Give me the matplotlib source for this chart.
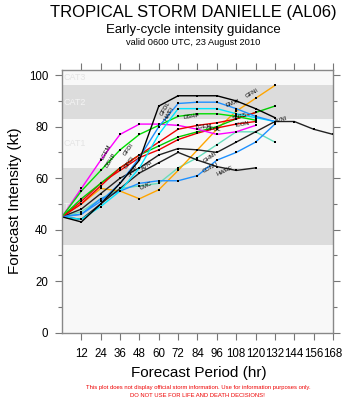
import numpy as np
import matplotlib
matplotlib.use('Agg')
import matplotlib.pyplot as plt

plt.rcParams['font.family'] = ['Liberation Sans', 'DejaVu Sans']

# forecast hours
hours = [0, 12, 24, 36, 48, 60, 72, 84, 96, 108, 120, 132, 144, 156, 168]

# model intensity forecasts (kt)
magenta = [45, 56, 67, 77, 81, 81, 80.5, 79, 77, 78, 80.5]
green_a = [45, 55, 63, 71, 77, 80.5, 84, 85, 85, 84, 82.5]
green_b = [45, 52, 58, 64, 69, 72.5, 76, 78, 80, 83, 85.5, 88]
red_a = [45, 50, 57, 64, 69, 74, 79, 80.5, 81.5, 83, 85.5]
red_b = [45, 51, 58, 63, 68, 71, 75, 77.5, 79.5, 81, 82]
cyan = [45, 44, 49, 55, 64, 77, 87, 87, 87, 85, 83.5, 82]
blue_a = [45, 46, 51, 58, 68, 80, 89, 89.5, 89.5, 87, 84, 82]
blue_b = [45, 46, 52, 55, 58, 59, 59, 61, 67, 70, 74, 81]
orange = [45, 50, 56, 55, 52, 55.5, 63, 71, 79, 86, 91, 96]
aqua = [45, 47, 52, 56, 57, 58, 64, 68, 73, 78, 78, 74]
black_top = [45, 43, 50, 58, 67, 88, 92, 92, 92, 90, 87, 83.5]
black_long = [45, 48, 54, 60, 64, 69, 71.5, 71, 70, 74, 78, 82, 82, 79, 77]
black_low = [45, 44, 50, 56, 62, 66, 70, 67, 64.5, 63, 64]

series = [
    (aqua, '#66ddbb'), (orange, '#ffa500'), (blue_b, '#1e90ff'),
    (black_low, '#222222'), (black_long, '#222222'), (red_b, '#ee0000'),
    (green_b, '#00cc00'), (magenta, '#ff00ff'), (red_a, '#ee0000'),
    (green_a, '#00dd00'), (cyan, '#00e5ff'), (blue_a, '#1e90ff'),
    (black_top, '#000000'),
]

# Saffir-Simpson bands (kt)
bands = [(0, 34, '#f8f8f8'), (34, 64, '#dcdcdc'), (64, 83, '#f8f8f8'),
         (83, 96, '#dcdcdc'), (96, 102, '#f8f8f8')]
band_labels = [('TS', 49, '#f4f4f4'), ('CAT1', 73.5, '#e4e4e4'),
               ('CAT2', 89.5, '#f4f4f4'), ('CAT3', 99, '#e4e4e4')]

# model name labels: text, hour, kt, angle
model_labels = [
    ('LGEM', 27, 70, 62), ('DSHP', 30, 67, 58), ('GFDI', 41, 71, 55),
    ('OFCI', 42, 66, 55), ('SHIP', 44, 63, 50), ('AVNI', 53, 65, 40),
    ('CMC', 52, 57, 25), ('GFDL', 64, 87, 60), ('HWFI', 66, 85, 60),
    ('DSHP', 80, 84, 8), ('LGEM', 88, 80, 5), ('OFCL', 94, 79, -5),
    ('GHMI', 92, 68, 35), ('CONU', 92, 64, 28), ('HWRF', 101, 63, 25),
    ('EMXI', 106, 89, 20), ('GFNI', 118, 93, 30), ('SHF5', 110, 84, 15),
    ('ICON', 112, 81, 10), ('AVNI', 136, 82.5, 15),
]

fig = plt.figure(figsize=(3.46, 4.0), dpi=100)
ax = fig.add_axes([62 / 346, 1 - 332.7 / 400, 271 / 346, 262.7 / 400])

for lo, hi, c in bands:
    ax.axhspan(lo, hi, color=c, zorder=0, lw=0)
for txt, y, c in band_labels:
    ax.text(1, y, txt, color=c, fontsize=6.5, va='center', ha='left', zorder=1)

for vals, c in series:
    ax.plot(hours[:len(vals)], vals, color=c, lw=1.0, zorder=2,
            marker='s', ms=1.5, mew=0, mfc='black')

for txt, x, y, rot in model_labels:
    ax.text(x, y, txt, fontsize=4.2, rotation=rot, ha='center', va='center',
            color='black', zorder=3)

ax.set_xlim(0, 168)
ax.set_ylim(0, 102)
ax.set_xticks(range(12, 169, 12))
ax.set_yticks(range(0, 101, 20))
ax.set_yticks(range(10, 101, 20), minor=True)
ax.tick_params(axis='both', which='major', direction='out', length=5, width=0.8,
               color='#777777', labelsize=8.3, top=True, right=True, pad=5)
ax.tick_params(axis='y', which='minor', direction='out', length=3, width=0.8,
               color='#777777', right=True)
ax.tick_params(axis='x', pad=6)
for s in ax.spines.values():
    s.set_color('#888888')
    s.set_linewidth(1.0)

fig.text(0.558, 1 - 12 / 400, 'TROPICAL STORM DANIELLE (AL06)', ha='center', va='center', fontsize=12)
fig.text(0.558, 1 - 29.5 / 400, 'Early-cycle intensity guidance', ha='center', va='center', fontsize=9.5)
fig.text(0.558, 1 - 42.5 / 400, 'valid 0600 UTC, 23 August 2010', ha='center', va='center', fontsize=6.7)
fig.text(0.575, 1 - 373 / 400, 'Forecast Period (hr)', ha='center', va='center', fontsize=11)
fig.text(15 / 346, 1 - 201 / 400, 'Forecast Intensity (kt)', ha='center', va='center',
         fontsize=11, rotation=90)
fig.text(0.572, 1 - 387.5 / 400,
         'This plot does not display official storm information. Use for information purposes only.',
         ha='center', va='center', fontsize=4.2, color='#ee0000')
fig.text(0.572, 1 - 395.3 / 400, 'DO NOT USE FOR LIFE AND DEATH DECISIONS!',
         ha='center', va='center', fontsize=4.2, color='#ee0000')

fig.savefig('out.png', dpi=100)
